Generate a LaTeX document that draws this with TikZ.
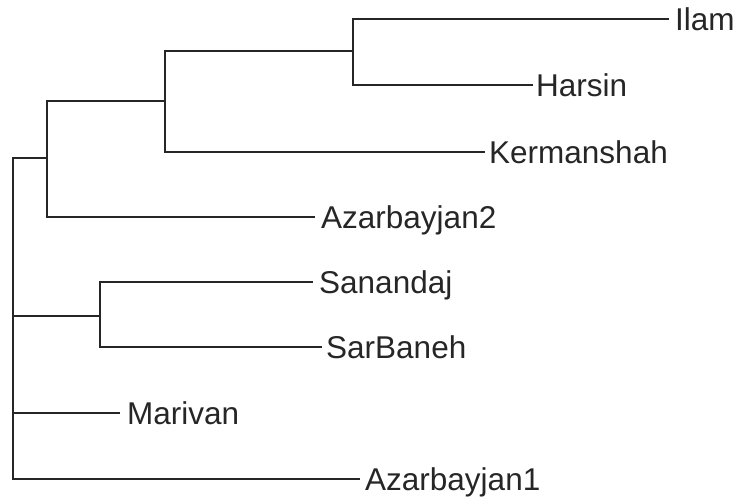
\documentclass[tikz,border=0pt]{standalone}
\usepackage{fontspec}
\setmainfont{Liberation Sans}
\begin{document}
\begin{tikzpicture}[x=1pt,y=-1pt,
  branch/.style={line width=1.3pt,black!85},
  leaf/.style={anchor=base west,inner sep=0pt,font=\fontsize{31.5}{33}\selectfont,text=black!85}]
\useasboundingbox (0,0) rectangle (738,498);
% internal nodes
\coordinate (r) at (13,318);
\coordinate (A) at (47,158);
\coordinate (B) at (165,101);
\coordinate (C) at (353,51);
\coordinate (D) at (100,316);
% leaf ends
\coordinate (eIlam) at (669,19);
\coordinate (eHarsin) at (533,85);
\coordinate (eKerm) at (485,152);
\coordinate (eAz2) at (315,217);
\coordinate (eSan) at (313,282);
\coordinate (eSar) at (322,347);
\coordinate (eMar) at (120,413);
\coordinate (eAz1) at (360,479);
% labels
\node[leaf] (Ilam) at (675,30) {Ilam};
\node[leaf] (Harsin) at (536,96) {Harsin};
\node[leaf] (Kerm) at (489,163) {Kermanshah};
\node[leaf] (Az2) at (321,228) {Azarbayjan2};
\node[leaf] (San) at (319,293) {Sanandaj};
\node[leaf] (Sar) at (326,358) {SarBaneh};
\node[leaf] (Mar) at (127,424) {Marivan};
\node[leaf] (Az1) at (365,490) {Azarbayjan1};
% branches
\draw[branch] (r) |- (A);
\draw[branch] (r) |- (D);
\draw[branch] (r) |- (eMar);
\draw[branch] (r) |- (eAz1);
\draw[branch] (A) |- (B);
\draw[branch] (A) |- (eAz2);
\draw[branch] (B) |- (C);
\draw[branch] (B) |- (eKerm);
\draw[branch] (C) |- (eIlam);
\draw[branch] (C) |- (eHarsin);
\draw[branch] (D) |- (eSan);
\draw[branch] (D) |- (eSar);
\end{tikzpicture}
\end{document}
